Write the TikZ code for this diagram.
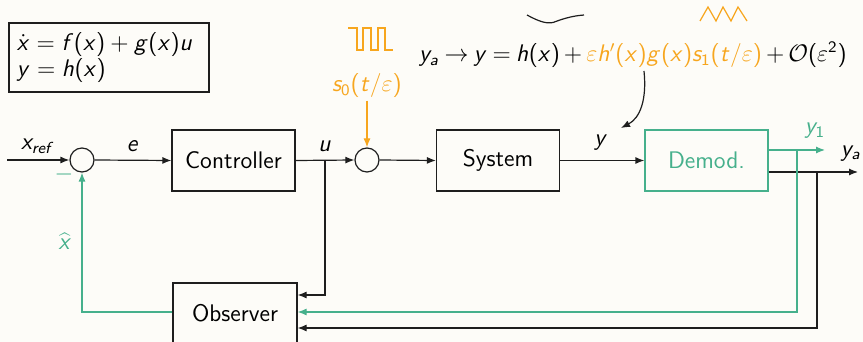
\documentclass[tikz,border=0pt]{standalone}
\usetikzlibrary{arrows.meta}
\renewcommand\familydefault{\sfdefault}
\DeclareSymbolFont{sfit}{OT1}{cmss}{m}{sl}
\DeclareSymbolFont{sfup}{OT1}{cmss}{m}{n}
\DeclareMathSymbol{a}{\mathalpha}{sfit}{`a}
\DeclareMathSymbol{e}{\mathalpha}{sfit}{`e}
\DeclareMathSymbol{f}{\mathalpha}{sfit}{`f}
\DeclareMathSymbol{g}{\mathalpha}{sfit}{`g}
\DeclareMathSymbol{h}{\mathalpha}{sfit}{`h}
\DeclareMathSymbol{r}{\mathalpha}{sfit}{`r}
\DeclareMathSymbol{s}{\mathalpha}{sfit}{`s}
\DeclareMathSymbol{t}{\mathalpha}{sfit}{`t}
\DeclareMathSymbol{u}{\mathalpha}{sfit}{`u}
\DeclareMathSymbol{x}{\mathalpha}{sfit}{`x}
\DeclareMathSymbol{y}{\mathalpha}{sfit}{`y}
\DeclareMathSymbol{0}{\mathalpha}{sfup}{`0}
\DeclareMathSymbol{1}{\mathalpha}{sfup}{`1}
\DeclareMathSymbol{2}{\mathalpha}{sfup}{`2}
\DeclareMathSymbol{(}{\mathopen}{sfup}{`(}
\DeclareMathSymbol{)}{\mathclose}{sfup}{`)}
\DeclareMathSymbol{/}{\mathord}{sfup}{`/}
\definecolor{grn}{RGB}{70,176,140}
\definecolor{org}{RGB}{247,166,30}
\definecolor{bg}{RGB}{253,252,248}
\definecolor{ink}{RGB}{30,30,30}
\begin{document}
\begin{tikzpicture}[x=0.5pt,y=-0.5pt,
  font=\fontsize{12}{13}\selectfont,
  >={Latex[length=4.5pt,width=3.5pt]},
  line width=0.6pt,
  blk/.style={draw=ink, minimum width=61.5pt, minimum height=30.5pt, inner sep=2pt},
  sumc/.style={circle, draw=ink, minimum size=12pt, inner sep=0pt},
  sig/.style={draw=ink, ->},
  gsig/.style={draw=grn, ->},
  lbl/.style={inner sep=1pt}]
\fill[bg] (0,0) rectangle (863,342);
\useasboundingbox (0,0) rectangle (863,342);
\clip (0,0) rectangle (863,342);

% equations box
\node[draw=ink, text width=92pt, minimum height=34.5pt, inner xsep=4pt, inner ysep=2pt, align=left]
  (eqs) at (109,57.5) {$\dot{x}=f(x)+g(x)u$\\$y=h(x)$};

% blocks
\node[sumc] (s1) at (82,160) {};
\node[blk] (ctrl) at (233.5,160.5) {Controller};
\node[sumc] (s2) at (367,160) {};
\node[blk] (sys) at (498,160.5) {System};
\node[blk, draw=grn, text=grn] (dem) at (706.5,160.5) {Demod.};
\node[blk, minimum width=62pt] (obs) at (235,313.5) {Observer};

% signal s0
\node[lbl, text=org] (s0) at (367,86) {$s_0(t/\varepsilon)$};
\draw[draw=org, ->] (s0.south) -- (s2.north);

% main equation
\node[lbl] (eq) at (633,55) {\thickmuskip=4mu\medmuskip=3mu$y_a\rightarrow y=h(x)+{\color{org}\varepsilon h'(x)g(x)s_1(t/\varepsilon)}+\mathcal{O}(\varepsilon^2)$};

% forward path
\coordinate (in) at (7,160);
\draw[sig] (in) -- (s1.west);
\node[lbl] (lxr) at (38,146) {$x_{ref}$};
\draw[sig] (s1.east) -- (ctrl.west);
\node[lbl] (le) at (133,146) {$e$};
\draw[sig] (ctrl.east) -- (s2.west);
\node[lbl] (lu) at (325,146) {$u$};
\draw[sig] (s2.east) -- (sys.west);
\draw[sig] (sys.east) -- (dem.west);
\node[lbl] (ly) at (601,143) {$y$};

% outputs
\coordinate (y1end) at (825,150);
\coordinate (yaend) at (858,172);
\draw[gsig] (dem.east |- y1end) -- (y1end);
\node[lbl, text=grn] (ly1) at (815,131) {$y_1$};
\draw[sig] (dem.east |- yaend) -- (yaend);
\node[lbl] (lya) at (851,153) {$y_a$};

% feedback to observer
\coordinate (h1) at (0,295);
\coordinate (h2) at (0,312);
\coordinate (h3) at (0,328);
\coordinate (ub) at (325,160);
\coordinate (gb) at (797,150);
\coordinate (kb) at (817,172);
\draw[sig] (ub) |- (obs.east |- h1);
\draw[gsig] (gb) |- (obs.east |- h2);
\draw[sig] (kb) |- (obs.east |- h3);

% estimate back
\draw[gsig] (obs.west |- h2) -| (s1.south);
\node[lbl, text=grn] (lxh) at (65,241) {$\widehat{x}$};
\node[lbl, text=grn] (lmin) at (64,175) {$-$};

% curved arrow
\coordinate (ca) at (644,71);
\coordinate (cb) at (621,128);
\draw[sig] (ca) .. controls (647,100) and (640,118) .. (cb);

% wave sketches
\draw[ink, line width=0.6pt] (527,15) .. controls (538,21) and (546,24) .. (553,22.5)
  .. controls (560,20) and (570,16) .. (584,15);
\draw[org, line width=0.6pt] (700,21) -- (708,7) -- (716,21) -- (723,7) -- (731,21) -- (738,7) -- (747,21);
\draw[org, line width=0.6pt] (348,28) -- (357,28) -- (357,50) -- (363,50) -- (363,28) -- (371,28)
  -- (371,50) -- (378,50) -- (378,28) -- (385,28) -- (385,50) -- (393,50);
\end{tikzpicture}
\end{document}
